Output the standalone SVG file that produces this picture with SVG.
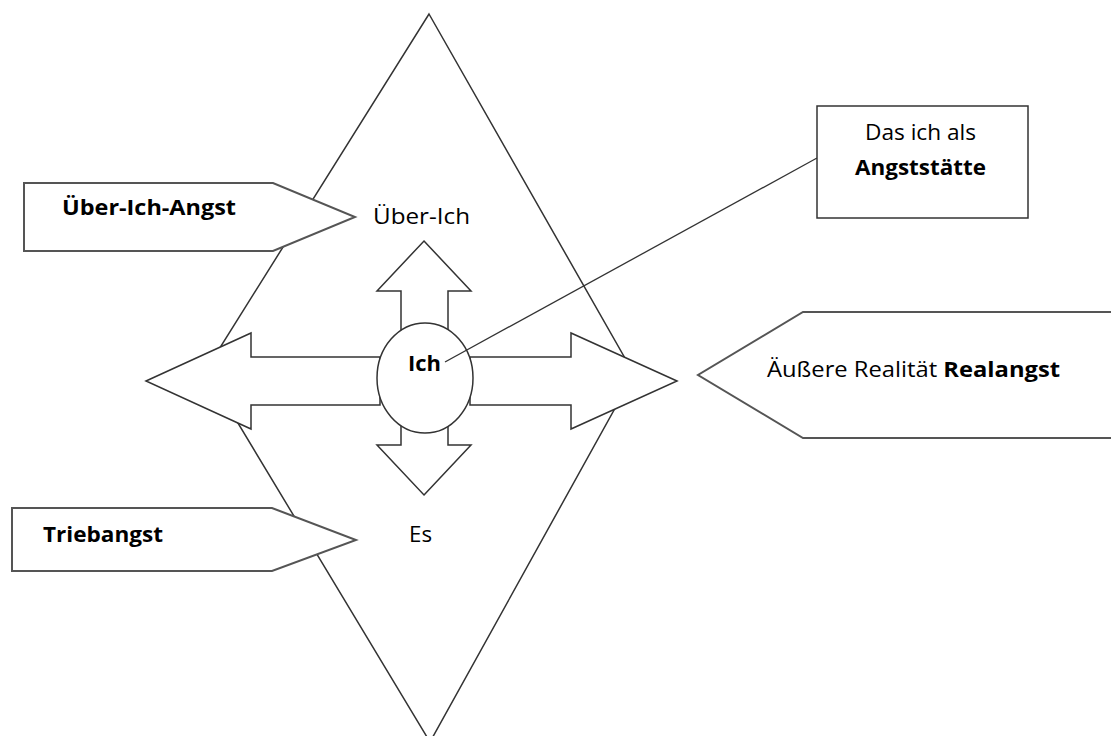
<svg xmlns="http://www.w3.org/2000/svg" width="1111" height="736" viewBox="0 0 1111 736">
<style>
.shape{fill:#fff;stroke:#333;stroke-width:1.5;stroke-linejoin:miter}
.call{fill:#fff;stroke:#555;stroke-width:2}
.line{fill:none;stroke:#333;stroke-width:1.3}
.t{font-family:"Open Sans","Noto Sans",sans-serif;font-size:22px;fill:#000}
.b{font-weight:bold}
</style>
<rect width="1111" height="736" fill="#fff"/>
<g id="diamond"><polygon class="shape" points="429,14 634,374 430,742 206,370"/></g>
<g id="callout-ueber-ich-angst">
<polygon class="call" points="24,183 273,183 355,217 273,251 24,251"/>
<text class="t b" x="62" y="215" textLength="174" lengthAdjust="spacingAndGlyphs">Über-Ich-Angst</text>
</g>
<g id="callout-triebangst">
<polygon class="call" points="12,508 272,508 356,540 272,571 12,571"/>
<text class="t b" x="43" y="542" textLength="120" lengthAdjust="spacingAndGlyphs">Triebangst</text>
</g>
<g id="callout-realangst">
<polygon class="call" points="1115,312 803,312 698,375 803,438 1115,438"/>
<text class="t" x="767" y="377" textLength="293" lengthAdjust="spacingAndGlyphs">Äußere Realität <tspan class="b">Realangst</tspan></text>
</g>
<g id="arrows">
<polygon class="shape" points="424,241 471,291 448,291 448,330 401,330 401,291 377,291"/>
<polygon class="shape" points="424,495 471,445 448,445 448,420 401,420 401,445 377,445"/>
<polygon class="shape" points="146,381 251,333 251,357 380,357 380,405 251,405 251,429"/>
<polygon class="shape" points="677,381 571,333 571,357 470,357 470,405 571,405 571,429"/>
</g>
<g id="ich">
<ellipse class="shape" cx="425" cy="378" rx="48" ry="55"/>
<text class="t b" x="408" y="371" textLength="33" lengthAdjust="spacingAndGlyphs">Ich</text>
</g>
<g id="labels">
<text class="t" x="373" y="224" textLength="97" lengthAdjust="spacingAndGlyphs">Über-Ich</text>
<text class="t" x="409" y="542" textLength="23" lengthAdjust="spacingAndGlyphs">Es</text>
</g>
<g id="connectors"><line class="line" x1="445" y1="362" x2="817" y2="158"/></g>
<g id="box-angststaette">
<rect class="call" x="817" y="106" width="211" height="112" style="stroke:#333;stroke-width:1.5"/>
<text class="t" x="865" y="140" textLength="111" lengthAdjust="spacingAndGlyphs">Das ich als</text>
<text class="t b" x="855" y="175" textLength="131" lengthAdjust="spacingAndGlyphs">Angststätte</text>
</g>
</svg>
